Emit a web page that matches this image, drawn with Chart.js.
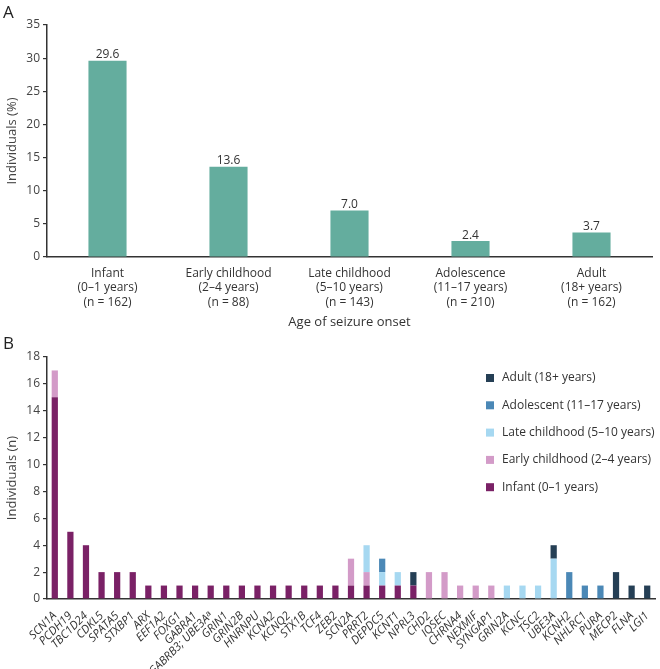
<!DOCTYPE html>
<html>
<head>
<meta charset="utf-8">
<title>Age of seizure onset</title>
<script src="https://cdn.jsdelivr.net/npm/chart.js@4.4.0/dist/chart.umd.min.js"></script>
<style>
    body { margin: 0; background: #fff; font-family: 'Open Sans', sans-serif; }
    #wrap { position: relative; width: 660px; height: 669px; overflow: hidden; }
    .panel-letter { position: absolute; left: 3px; font-size: 17px; line-height: 17px; color: #222; }
    #boxA { position: absolute; left: 0; top: 0; }
    #boxB { position: absolute; left: 0; top: 336px; }
</style>
</head>
<body>
<div id="wrap">
    <canvas id="boxA" width="660" height="336"></canvas>
    <canvas id="boxB" width="660" height="333"></canvas>
    <div class="panel-letter" style="top:3px;">A</div>
    <div class="panel-letter" style="top:334px;">B</div>
</div>
<script>
// Panel A data
const onsetGroups = [
    ['Infant', '(0–1 years)', '(n = 162)'],
    ['Early childhood', '(2–4 years)', '(n = 88)'],
    ['Late childhood', '(5–10 years)', '(n = 143)'],
    ['Adolescence', '(11–17 years)', '(n = 210)'],
    ['Adult', '(18+ years)', '(n = 162)']
];
const onsetPercent = [29.6, 13.6, 7.0, 2.4, 3.7];

// Panel B data
const genes = ['SCN1A', 'PCDH19', 'TBC1D24', 'CDKL5', 'SPATA5', 'STXBP1', 'ARX', 'EEF1A2', 'FOXG1', 'GABRA1',
    'GABRB3; UBE3Aᵃ', 'GRIN1', 'GRIN2B', 'HNRNPU', 'KCNA2', 'KCNQ2', 'STX1B', 'TCF4', 'ZEB2', 'SCN2A',
    'PRRT2', 'DEPDC5', 'KCNT1', 'NPRL3', 'CHD2', 'IQSEC', 'CHRNA4', 'NEXMIF', 'SYNGAP1', 'GRIN2A',
    'KCNC', 'TSC2', 'UBE3A', 'KCNH2', 'NHLRC1', 'PURA', 'MECP2', 'FLNA', 'LGI1'];
const infantCounts     = [15, 5, 4, 2, 2, 2, 1, 1, 1, 1, 1, 1, 1, 1, 1, 1, 1, 1, 1, 1, 1, 1, 1, 1, 0, 0, 0, 0, 0, 0, 0, 0, 0, 0, 0, 0, 0, 0, 0];
const earlyCounts      = [2, 0, 0, 0, 0, 0, 0, 0, 0, 0, 0, 0, 0, 0, 0, 0, 0, 0, 0, 2, 1, 0, 0, 0, 2, 2, 1, 1, 1, 0, 0, 0, 0, 0, 0, 0, 0, 0, 0];
const lateCounts       = [0, 0, 0, 0, 0, 0, 0, 0, 0, 0, 0, 0, 0, 0, 0, 0, 0, 0, 0, 0, 2, 1, 1, 0, 0, 0, 0, 0, 0, 1, 1, 1, 3, 0, 0, 0, 0, 0, 0];
const adolescentCounts = [0, 0, 0, 0, 0, 0, 0, 0, 0, 0, 0, 0, 0, 0, 0, 0, 0, 0, 0, 0, 0, 1, 0, 0, 0, 0, 0, 0, 0, 0, 0, 0, 0, 2, 1, 1, 0, 0, 0];
const adultCounts      = [0, 0, 0, 0, 0, 0, 0, 0, 0, 0, 0, 0, 0, 0, 0, 0, 0, 0, 0, 0, 0, 0, 0, 1, 0, 0, 0, 0, 0, 0, 0, 0, 1, 0, 0, 0, 2, 1, 1];

Chart.defaults.font.family = "'Open Sans', sans-serif";
Chart.defaults.color = '#333';

// Value labels above the bars in panel A
const barValueLabels = {
    id: 'barValueLabels',
    afterDatasetsDraw(chart) {
        const ctx = chart.ctx;
        const meta = chart.getDatasetMeta(0);
        ctx.save();
        ctx.font = "12px 'Open Sans'";
        ctx.fillStyle = '#333';
        ctx.textAlign = 'center';
        ctx.textBaseline = 'bottom';
        meta.data.forEach((bar, i) => {
            ctx.fillText(onsetPercent[i].toFixed(1), bar.x, bar.y);
        });
        ctx.restore();
    }
};

// Legend for panel B, drawn inside the plot, top item = last dataset
const ageLegend = {
    id: 'ageLegend',
    afterDraw(chart) {
        const ctx = chart.ctx;
        const items = chart.data.datasets.slice().reverse();
        ctx.save();
        ctx.font = "12px 'Open Sans'";
        ctx.textBaseline = 'middle';
        items.forEach((ds, i) => {
            const y = 42 + i * 27.3;
            ctx.fillStyle = ds.backgroundColor;
            ctx.fillRect(486, y - 4, 8, 8);
            ctx.fillStyle = '#333';
            ctx.fillText(ds.label, 502, y);
        });
        ctx.restore();
    }
};

const axisY = (max, step, title) => ({
    min: 0,
    max: max,
    ticks: { stepSize: step, color: '#444', font: { size: 12 }, padding: 3 },
    grid: { drawOnChartArea: false, tickLength: 4, color: '#333', lineWidth: 1.2 },
    border: { color: '#333', width: 1.5 },
    title: { display: true, text: title, color: '#444', font: { size: 13 }, padding: { top: 4, bottom: 0 } },
    afterFit(scale) { scale.width = 47; }
});

new Chart(document.getElementById('boxA'), {
    type: 'bar',
    data: {
        labels: onsetGroups,
        datasets: [{
            data: onsetPercent,
            backgroundColor: '#64ad9e',
            barPercentage: 0.315,
            categoryPercentage: 1
        }]
    },
    options: {
        responsive: false,
        animation: false,
        layout: { padding: { top: 25, right: 8, left: 0, bottom: 0 } },
        plugins: { legend: { display: false }, tooltip: { enabled: false } },
        scales: {
            x: {
                grid: { display: false },
                border: { color: '#333', width: 1.5 },
                ticks: { color: '#333', font: { size: 12, lineHeight: 1.22 }, padding: 1 },
                title: { display: true, text: 'Age of seizure onset', color: '#333', font: { size: 13 }, padding: { top: 4, bottom: 6 } },
                afterFit(scale) { scale.height = 79; }
            },
            y: axisY(35, 5, 'Individuals (%)')
        }
    },
    plugins: [barValueLabels]
});

new Chart(document.getElementById('boxB'), {
    type: 'bar',
    data: {
        labels: genes,
        datasets: [
            { label: 'Infant (0–1 years)', data: infantCounts, backgroundColor: '#7a2166' },
            { label: 'Early childhood (2–4 years)', data: earlyCounts, backgroundColor: '#d39bc8' },
            { label: 'Late childhood (5–10 years)', data: lateCounts, backgroundColor: '#a6d8f1' },
            { label: 'Adolescent (11–17 years)', data: adolescentCounts, backgroundColor: '#4b88b6' },
            { label: 'Adult (18+ years)', data: adultCounts, backgroundColor: '#253f55' }
        ]
    },
    options: {
        responsive: false,
        animation: false,
        datasets: { bar: { barPercentage: 0.4, categoryPercentage: 1 } },
        layout: { padding: { top: 21, right: 5, left: 0, bottom: 0 } },
        plugins: { legend: { display: false }, tooltip: { enabled: false } },
        scales: {
            x: {
                stacked: true,
                grid: { display: false },
                border: { color: '#333', width: 1.5 },
                ticks: { autoSkip: false, maxRotation: 45, minRotation: 45, color: '#333', font: { size: 11.5, style: 'italic' }, padding: 2 },
                afterFit(scale) { scale.height = 70; }
            },
            y: Object.assign(axisY(18, 2, 'Individuals (n)'), { stacked: true })
        }
    },
    plugins: [ageLegend]
});
</script>
</body>
</html>
